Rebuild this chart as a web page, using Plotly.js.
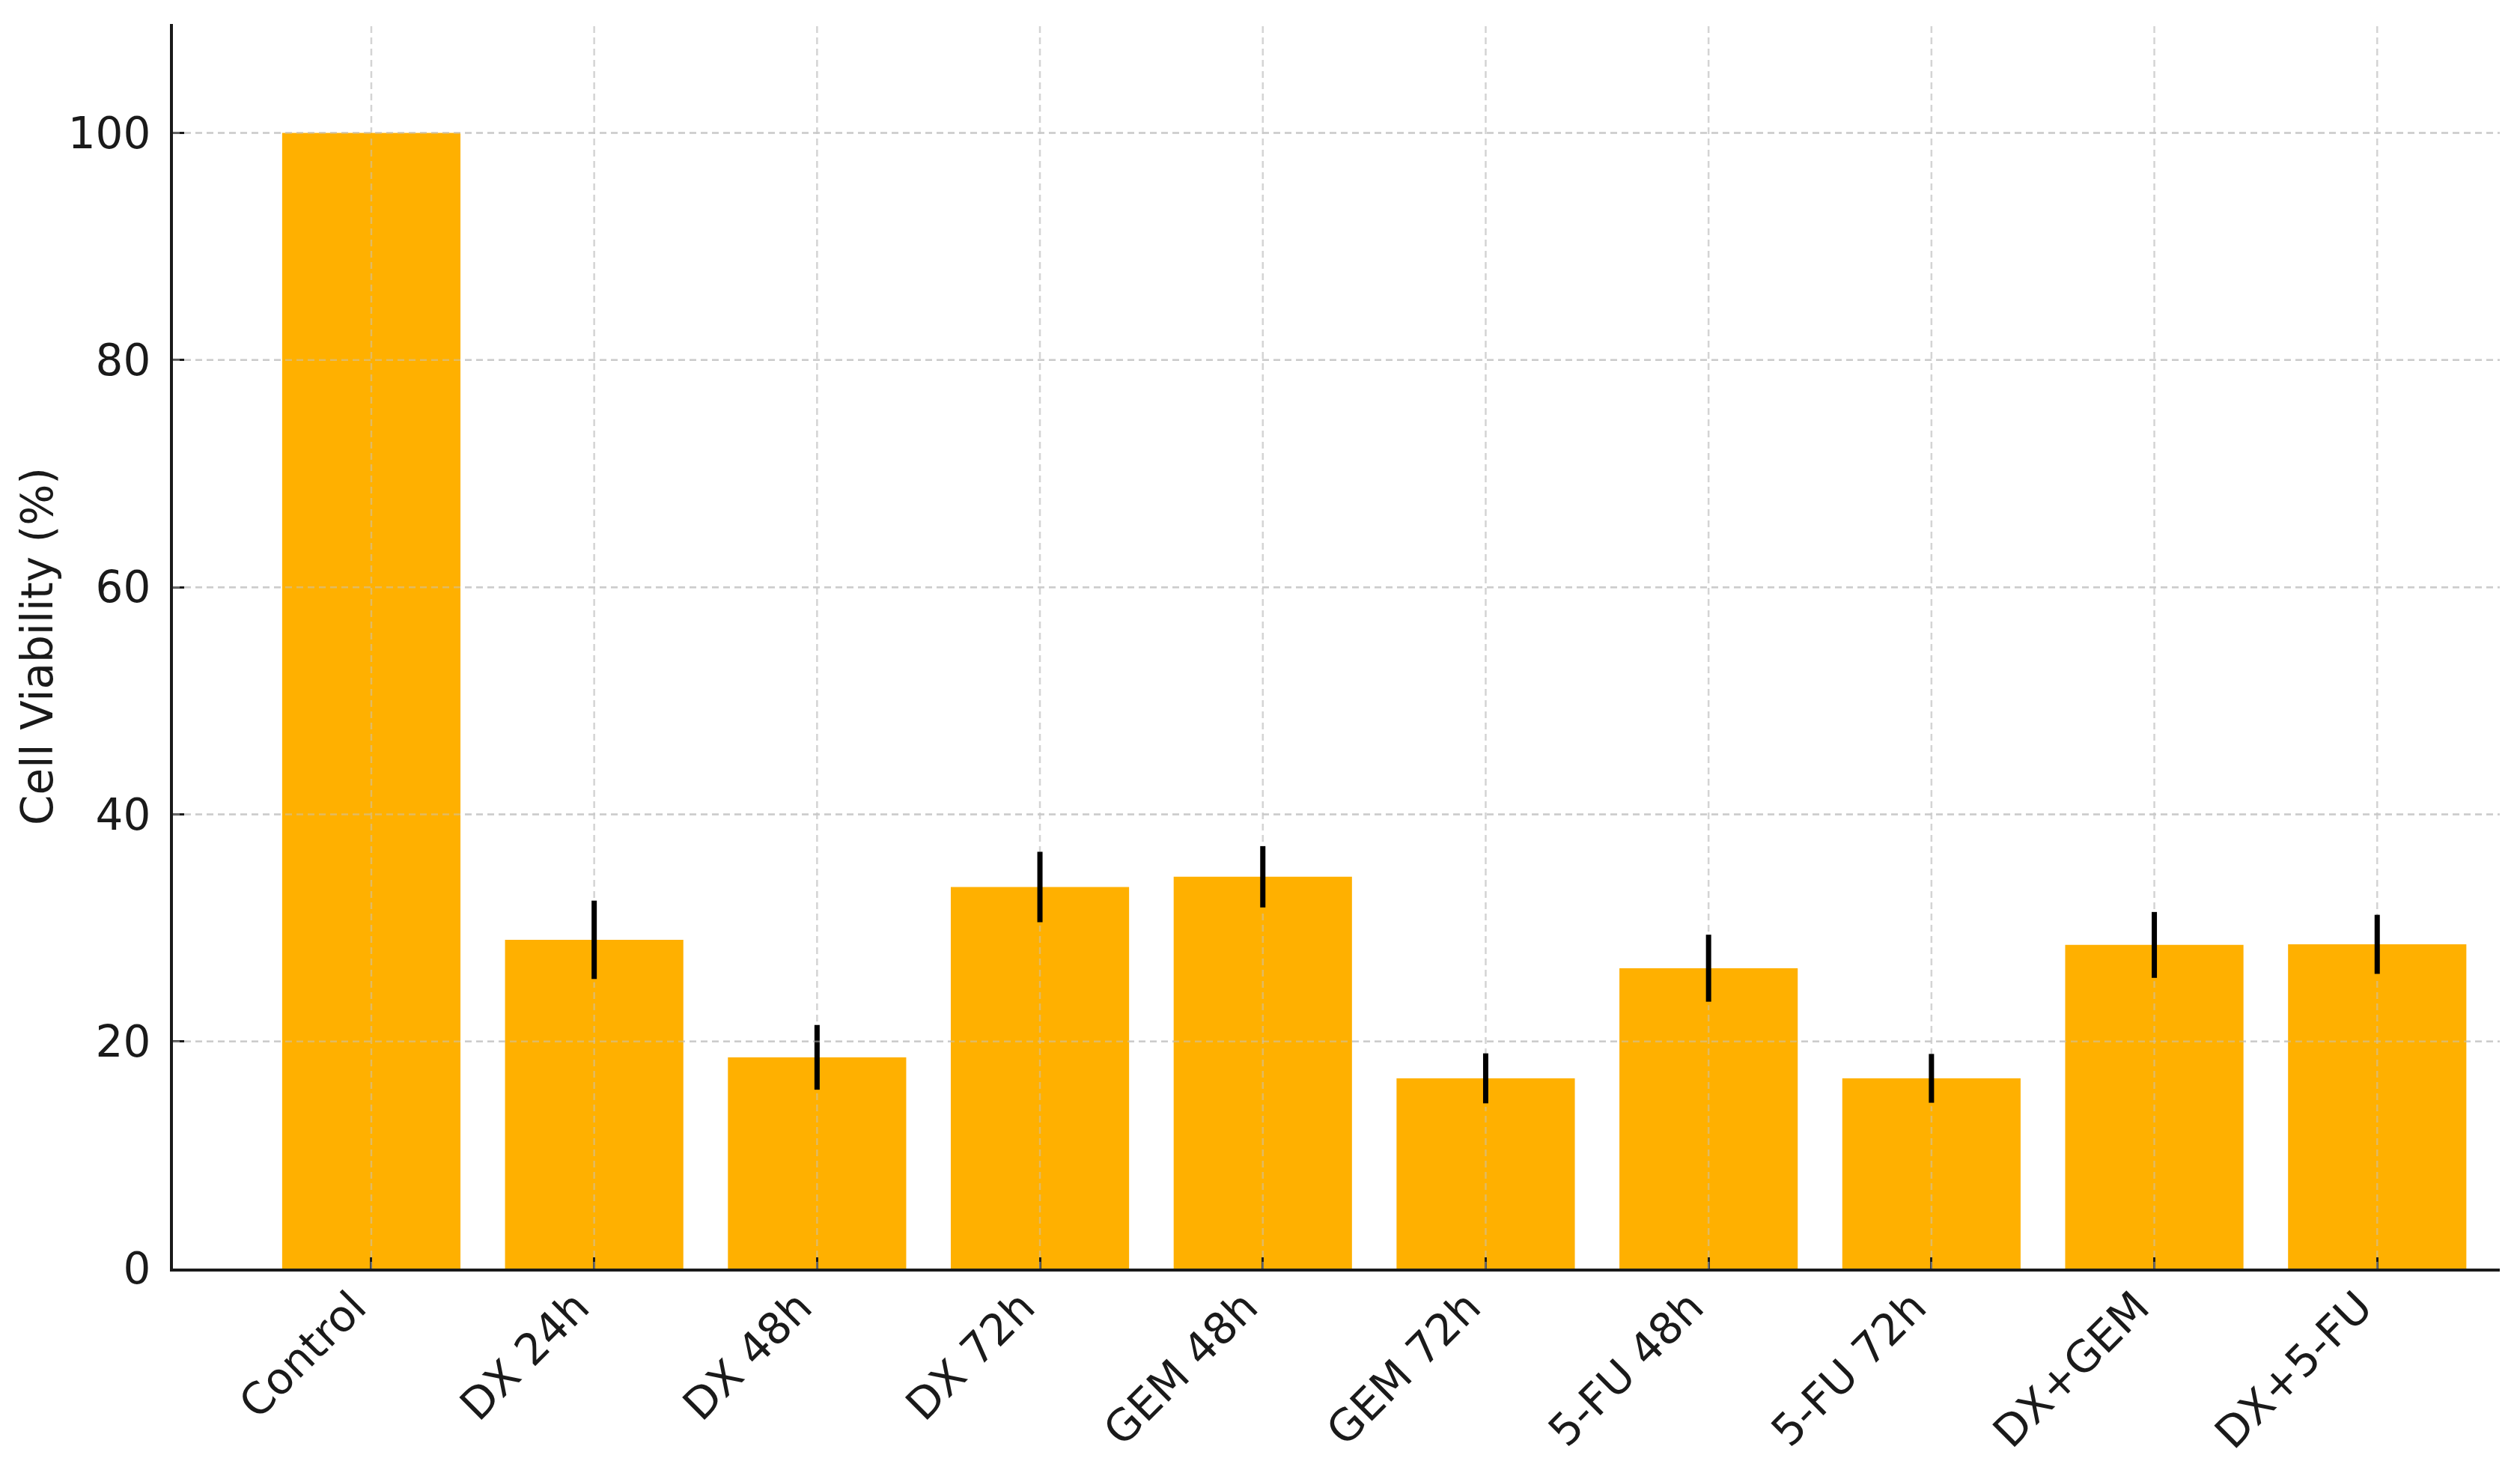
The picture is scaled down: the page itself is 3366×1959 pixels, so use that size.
<!DOCTYPE html>
<html>
<head>
<meta charset="utf-8">
<script src="https://cdn.plot.ly/plotly-3.0.1.min.js"></script>
<style>
  html, body { margin: 0; padding: 0; background: #fff; }
  #plot { width: 3366px; height: 1959px; }
</style>
</head>
<body>
<div id="plot"></div>
<script>
// treatment groups
const groups = ["Control", "DX 24h", "DX 48h", "DX 72h", "GEM 48h", "GEM 72h",
                "5-FU 48h", "5-FU 72h", "DX+GEM", "DX+5-FU"];
// mean viability (%) and error (+/-)
const viability = [100, 28.95, 18.6, 33.6, 34.5, 16.75, 26.45, 16.75, 28.5, 28.55];
const errors = [0, 3.45, 2.85, 3.1, 2.7, 2.2, 2.95, 2.15, 2.9, 2.6];
const yTicks = [0, 20, 40, 60, 80, 100];

const font = { family: "DejaVu Sans, sans-serif", size: 58, color: "#1a1a1a" };

const bars = {
  type: "bar",
  x: groups,
  y: viability,
  marker: { color: "#FFB000", line: { width: 0 } },
  error_y: { type: "data", array: errors, visible: true, color: "#000", thickness: 7, width: 0 },
  hoverinfo: "skip"
};

// dashed grid: full lines under the bars, and faint copies over the bars
// (kept below the error bars so those stay solid black)
const gridStyle = { color: "rgba(205,205,205,0.85)", width: 2.5, dash: "9px,6px" };
const gridOver = { color: "rgba(195,195,195,0.5)", width: 2.5, dash: "9px,6px" };
const shapes = [];
groups.forEach((g, i) => {
  shapes.push({ type: "line", layer: "between", xref: "x", yref: "paper",
                x0: g, x1: g, y0: 0, y1: 1, line: gridStyle });
  shapes.push({ type: "line", layer: "above", xref: "x", yref: "y",
                x0: g, x1: g, y0: 0, y1: viability[i] - errors[i] - 0.3, line: gridOver });
});
yTicks.slice(1).forEach((v) => {
  shapes.push({ type: "line", layer: "between", xref: "paper", yref: "y",
                x0: 0, x1: 1, y0: v, y1: v, line: gridStyle });
  shapes.push({ type: "line", layer: "above", xref: "paper", yref: "y",
                x0: 0, x1: 1, y0: v, y1: v, line: gridOver });
});

const layout = {
  width: 3366,
  height: 1959,
  paper_bgcolor: "#fff",
  plot_bgcolor: "#fff",
  font: font,
  showlegend: false,
  bargap: 0.2,
  margin: { l: 231, r: 27, t: 32, b: 265 },
  xaxis: {
    type: "category",
    range: [-0.89, 9.55],
    showgrid: false,
    zeroline: false,
    showline: true,
    linecolor: "#1a1a1a",
    linewidth: 4,
    ticks: "inside",
    ticklen: 15,
    tickwidth: 3,
    tickcolor: "#1a1a1a",
    tickangle: -45,
    tickfont: font,
    ticklabelshift: -24,
    ticklabelstandoff: -10,
    layer: "above traces"
  },
  yaxis: {
    range: [0, 109.6],
    tickvals: yTicks,
    showgrid: false,
    zeroline: false,
    showline: true,
    linecolor: "#1a1a1a",
    linewidth: 4,
    ticks: "inside",
    ticklen: 15,
    tickwidth: 3,
    tickcolor: "#1a1a1a",
    tickfont: font,
    ticklabelstandoff: 14,
    layer: "above traces",
    title: { text: "Cell Viability (%)", font: font, standoff: 2 }
  },
  shapes: shapes
};

Plotly.newPlot("plot", [bars], layout, { staticPlot: true });
</script>
</body>
</html>
